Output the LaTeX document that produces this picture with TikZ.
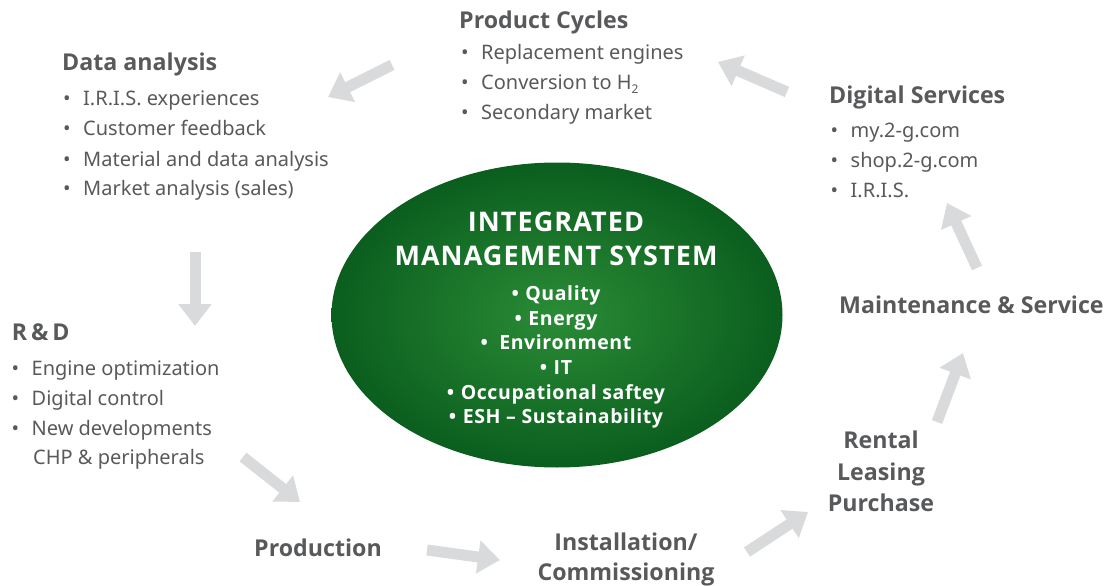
\documentclass[tikz,border=0pt]{standalone}
\usepackage{fontspec}
\setmainfont{Noto Sans}
\newfontfamily\heavyfam{Open Sans}
\usetikzlibrary{arrows.meta,shapes.geometric}
\definecolor{txtgray}{HTML}{58595B}
\definecolor{arrgray}{HTML}{D9DADB}
\definecolor{imsin}{HTML}{2A8C36}
\definecolor{imsout}{HTML}{0B5E1E}

\newcommand\ttlfont{\heavyfam\bfseries\fontsize{23.2}{27}\selectfont}
\newcommand\itmfont{\fontsize{20}{23}\selectfont}
\newcommand\imshead{\heavyfam\bfseries\addfontfeature{LetterSpace=4}\fontsize{27}{32}\selectfont}
\newcommand\imsitem{\heavyfam\bfseries\addfontfeature{LetterSpace=3}\fontsize{19.5}{23}\selectfont}
\newcommand\bul{\makebox[20pt][l]{\textbullet}}
\newcommand\subtwo{\raisebox{-4.5pt}{\fontsize{12}{12}\selectfont 2}}

\begin{document}
\begin{tikzpicture}[x=1pt,y=-1pt,
  ttl/.style={font=\ttlfont,text=txtgray,inner sep=0pt,anchor=base west},
  itm/.style={font=\itmfont,text=txtgray,inner sep=0pt,anchor=base west},
  stage/.style={font=\ttlfont,text=txtgray,inner sep=0pt,anchor=base},
  imst/.style={font=\imshead,text=white,inner sep=0pt,anchor=base},
  imsb/.style={font=\imsitem,text=white,inner sep=0pt,anchor=base},
  flow/.style={draw=arrgray,line width=11pt,-{Triangle[width=32pt,length=22pt]}},
]
\useasboundingbox (0,0) rectangle (1104,586);

% central management system
\node[ellipse,minimum width=451pt,minimum height=305pt,inner sep=0pt,
      shading=radial,inner color=imsin,outer color=imsout] (ims) at (557,315) {};
\node[imst] (ims1) at (556,231.5) {INTEGRATED};
\node[imst] (ims2) at (556,265) {MANAGEMENT SYSTEM};
\node[imsb] (q1) at (556,300) {•\,\,Quality};
\node[imsb] (q2) at (556,325) {•\,\,Energy};
\node[imsb] (q3) at (556,349.5) {•~ Environment};
\node[imsb] (q4) at (556,374.5) {•\,\,IT};
\node[imsb] (q5) at (556,399.5) {•\,\,Occupational saftey};
\node[imsb] (q6) at (556,423.5) {•\,\,ESH – Sustainability};

% product cycles
\node[ttl] (pc) at (459,28.3) {Product Cycles};
\node[itm] (pc1) at (461,59.3) {\bul Replacement engines};
\node[itm] (pc2) at (461,89.5) {\bul Conversion to H\subtwo};
\node[itm] (pc3) at (461,120) {\bul Secondary market};

% data analysis
\node[ttl] (da) at (62,71) {Data analysis};
\node[itm] (da1) at (63,106) {\bul I.R.I.S. experiences};
\node[itm] (da2) at (63,135.5) {\bul Customer feedback};
\node[itm] (da3) at (63,166) {\bul Material and data analysis};
\node[itm] (da4) at (63,195.5) {\bul Market analysis (sales)};

% digital services
\node[ttl] (ds) at (829,103.3) {Digital Services};
\node[itm] (ds1) at (830.5,137.3) {\bul my.2-g.com};
\node[itm] (ds2) at (830.5,167.3) {\bul shop.2-g.com};
\node[itm] (ds3) at (830.5,197.3) {\bul I.R.I.S.};

% research and development
\node[ttl] (rd) at (11.7,340) {R\,\&\,D};
\node[itm] (rd1) at (11.5,375) {\bul Engine optimization};
\node[itm] (rd2) at (11.5,405) {\bul Digital control};
\node[itm] (rd3) at (11.5,435) {\bul New developments};
\node[itm] (rd4) at (33,464.5) {CHP \& peripherals};

% lifecycle stages
\node[ttl] (ms) at (839,313.3) {Maintenance \& Service};
\node[stage] (pr) at (318,556.7) {Production};
\node[stage] (in1) at (626,550) {Installation/};
\node[stage] (in2) at (626,580) {Commissioning};
\node[stage] (rl1) at (881,448.3) {Rental};
\node[stage] (rl2) at (881,480.5) {Leasing};
\node[stage] (rl3) at (881,511.7) {Purchase};

% flow arrow end points
\coordinate (a1s) at (787,92);  \coordinate (a1e) at (718,62);
\coordinate (a2s) at (392,65);  \coordinate (a2e) at (328,97);
\coordinate (a3s) at (195,252); \coordinate (a3e) at (195,326);
\coordinate (a4s) at (243,457); \coordinate (a4e) at (300,502);
\coordinate (a5s) at (427,550); \coordinate (a5e) at (500,560);
\coordinate (a6s) at (747,552); \coordinate (a6e) at (808,512);
\coordinate (a7s) at (937,422); \coordinate (a7e) at (963,353);
\coordinate (a8s) at (977,268); \coordinate (a8e) at (947,203);

\foreach \i in {1,...,8} {\draw[flow] (a\i s) -- (a\i e);}
\end{tikzpicture}
\end{document}
